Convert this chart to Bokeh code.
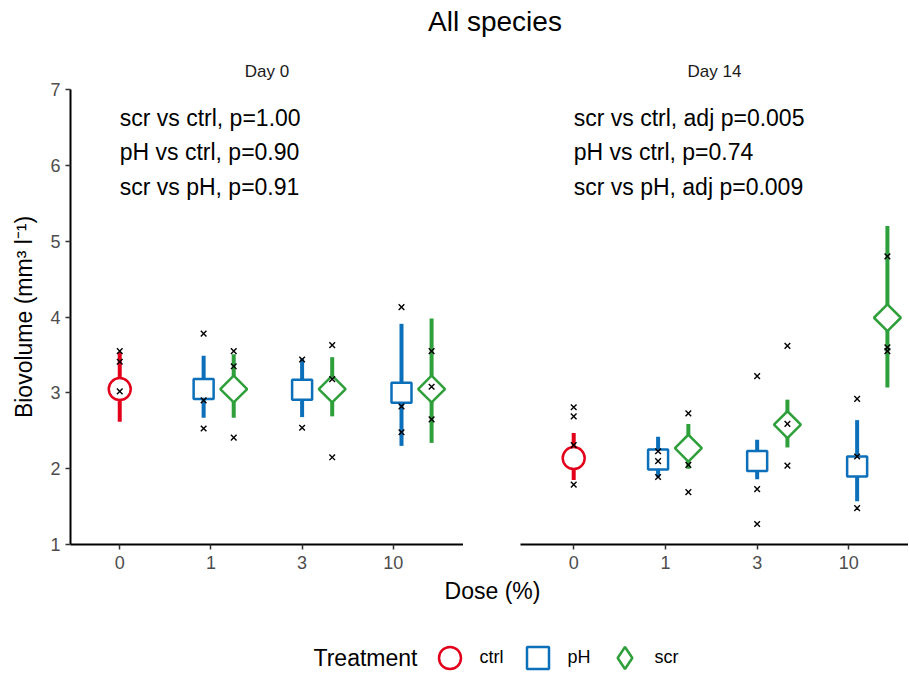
import math
from bokeh.plotting import figure
from bokeh.models import (ColumnDataSource, Range1d, FixedTicker, Div, Legend,
                          LegendItem, Label)
from bokeh.layouts import column, row
from bokeh.embed import file_html
from bokeh.resources import INLINE
from bokeh.core.properties import value

# ---------------- data ----------------
dose_labels = ["0", "1", "3", "10"]
y_ticks = [1, 2, 3, 4, 5, 6, 7]

# x position (category index + dodge) of each treatment group
ctrl_pos = [0.0]
ph_pos = [0.92, 2.0, 3.09]
scr_pos = [1.25, 2.33, 3.42]

# Day 0 : mean, lower and upper limits, replicate values
d0_ctrl_mean = [3.05]
d0_ctrl_lo = [2.62]
d0_ctrl_hi = [3.54]
d0_ctrl_reps = [[3.55, 3.41, 3.02]]

d0_ph_mean = [3.05, 3.04, 3.00]
d0_ph_lo = [2.67, 2.68, 2.30]
d0_ph_hi = [3.49, 3.45, 3.91]
d0_ph_reps = [[3.78, 2.90, 2.53], [3.44, 2.54], [4.13, 2.82, 2.48]]

d0_scr_mean = [3.05, 3.05, 3.05]
d0_scr_lo = [2.67, 2.69, 2.34]
d0_scr_hi = [3.51, 3.47, 3.98]
d0_scr_reps = [[3.55, 3.35, 2.41], [3.63, 3.18, 2.15], [3.55, 3.08, 2.65]]

# Day 14
d14_ctrl_mean = [2.14]
d14_ctrl_lo = [1.85]
d14_ctrl_hi = [2.47]
d14_ctrl_reps = [[2.81, 2.69, 2.31, 1.79]]

d14_ph_mean = [2.12, 2.10, 2.03]
d14_ph_lo = [1.89, 1.86, 1.57]
d14_ph_hi = [2.42, 2.38, 2.64]
d14_ph_reps = [[2.23, 2.10, 1.89], [3.22, 1.73, 1.27], [2.92, 2.16, 1.48]]

d14_scr_mean = [2.27, 2.58, 3.99]
d14_scr_lo = [2.00, 2.28, 3.07]
d14_scr_hi = [2.59, 2.91, 5.20]
d14_scr_reps = [[2.73, 2.05, 1.69], [3.62, 2.59, 2.04], [4.80, 3.60, 3.55]]

d0_notes = ["scr vs ctrl, p=1.00", "pH vs ctrl, p=0.90", "scr vs pH, p=0.91"]
d14_notes = ["scr vs ctrl, adj p=0.005", "pH vs ctrl, p=0.74", "scr vs pH, adj p=0.009"]

# ---------------- style ----------------
FONT = "Liberation Sans"
COL = {"ctrl": "#E3001B", "pH": "#0B6FBA", "scr": "#2E9F3A"}
note_x = [0, 0, 0]
note_y = [6.63, 6.17, 5.72]


def group_sources(pos, mean, lo, hi, reps):
    summ = ColumnDataSource(dict(x=pos, mean=mean, lo=lo, hi=hi))
    px, py = [], []
    for xv, vals in zip(pos, reps):
        px += [xv] * len(vals)
        py += vals
    return summ, ColumnDataSource(dict(x=px, y=py))


def make_panel(title, width, min_left, x_range, groups, notes, show_y):
    p = figure(width=width, height=527, x_range=x_range, y_range=Range1d(1, 7),
               output_backend="svg", toolbar_location=None, title=title,
               min_border_left=min_left, min_border_right=0,
               min_border_top=41, min_border_bottom=31)
    p.title.align = "center"
    p.title.text_font = FONT
    p.title.text_font_size = "17px"
    p.title.text_font_style = "normal"
    p.title.text_color = "#1A1A1A"
    p.title.standoff = 18
    p.outline_line_color = None
    p.grid.visible = False

    p.xaxis.ticker = FixedTicker(ticks=list(range(len(dose_labels))))
    p.xaxis.major_label_overrides = {i: s for i, s in enumerate(dose_labels)}
    p.yaxis.ticker = FixedTicker(ticks=y_ticks)
    for ax in (p.xaxis, p.yaxis):
        ax.axis_line_color = "black"
        ax.axis_line_width = 2
        ax.major_tick_line_color = "#333333"
        ax.major_tick_line_width = 1.5
        ax.major_tick_out = 5
        ax.major_tick_in = 0
        ax.minor_tick_line_color = None
        ax.major_label_text_font = FONT
        ax.major_label_text_font_size = "18px"
        ax.major_label_text_color = "#4D4D4D"
    p.xaxis.major_label_standoff = 6
    p.yaxis.major_label_standoff = 5
    if show_y:
        p.yaxis.axis_label = "Biovolume (mm\u00b3 l\u207b\u00b9)"
        p.yaxis.axis_label_text_font = FONT
        p.yaxis.axis_label_text_font_size = "23px"
        p.yaxis.axis_label_text_font_style = "normal"
        p.yaxis.axis_label_text_color = "black"
        p.yaxis.axis_label_standoff = 10
    else:
        p.yaxis.visible = False

    for name, marker, size, angle, summ, pts in groups:
        c = COL[name]
        p.segment(x0="x", y0="lo", x1="x", y1="hi", source=summ,
                  line_color=c, line_width=4)
        p.scatter(x="x", y="mean", source=summ, marker=marker, size=size,
                  angle=angle, fill_color="white", line_color=c, line_width=2.5)
    for name, marker, size, angle, summ, pts in groups:
        p.scatter(x="x", y="y", source=pts, marker="x", size=8,
                  line_color="black", line_width=1.4)

    p.text(x=note_x, y=note_y, text=notes, text_font=value(FONT),
           text_font_size="23px", text_align="left",
           text_baseline="middle", text_color="black")
    return p


g0 = [
    ("ctrl", "circle", 22, 0, *group_sources(ctrl_pos, d0_ctrl_mean, d0_ctrl_lo, d0_ctrl_hi, d0_ctrl_reps)),
    ("pH", "square", 20, 0, *group_sources(ph_pos, d0_ph_mean, d0_ph_lo, d0_ph_hi, d0_ph_reps)),
    ("scr", "square", 19, math.pi / 4, *group_sources(scr_pos, d0_scr_mean, d0_scr_lo, d0_scr_hi, d0_scr_reps)),
]
g14 = [
    ("ctrl", "circle", 22, 0, *group_sources(ctrl_pos, d14_ctrl_mean, d14_ctrl_lo, d14_ctrl_hi, d14_ctrl_reps)),
    ("pH", "square", 20, 0, *group_sources(ph_pos, d14_ph_mean, d14_ph_lo, d14_ph_hi, d14_ph_reps)),
    ("scr", "square", 19, math.pi / 4, *group_sources(scr_pos, d14_scr_mean, d14_scr_lo, d14_scr_hi, d14_scr_reps)),
]

p1 = make_panel("Day 0", 463, 70, Range1d(-0.54, 3.77), g0, d0_notes, True)
p2 = make_panel("Day 14", 445, 57, Range1d(-0.58, 3.65), g14, d14_notes, False)

title = Div(text='<div style="font-family:\'Liberation Sans\';font-size:28px;line-height:44px;'
                 'text-align:center;width:908px;position:relative;left:41px;color:black">All species</div>',
            width=908, height=48, margin=(0, 0, 0, 0))

# bottom strip: x-axis title and legend
b = figure(width=908, height=97, x_range=Range1d(0, 1), y_range=Range1d(0, 1),
           output_backend="svg", toolbar_location=None, min_border=0)
b.axis.visible = False
b.grid.visible = False
b.outline_line_color = None
b.add_layout(Label(x=492, y=82, x_units="screen", y_units="screen", text="Dose (%)",
                   text_align="center", text_baseline="middle", text_font=FONT,
                   text_font_size="23px", text_color="black"))
b.add_layout(Label(x=313, y=15, x_units="screen", y_units="screen", text="Treatment",
                   text_align="left", text_baseline="middle", text_font=FONT,
                   text_font_size="23px", text_color="black"))
nan = float("nan")
r_ctrl = b.scatter(x=[nan], y=[nan], marker="circle", fill_color="white",
                   line_color=COL["ctrl"], line_width=2.5)
r_ph = b.scatter(x=[nan], y=[nan], marker="square", fill_color="white",
                 line_color=COL["pH"], line_width=2.5)
r_scr = b.scatter(x=[nan], y=[nan], marker="diamond", fill_color="white",
                  line_color=COL["scr"], line_width=2.5)
leg = Legend(items=[LegendItem(label="ctrl", renderers=[r_ctrl]),
                    LegendItem(label="pH", renderers=[r_ph]),
                    LegendItem(label="scr", renderers=[r_scr])],
             orientation="horizontal", location=(421.5, -12.5),
             glyph_width=55, glyph_height=55, label_standoff=3, spacing=6,
             padding=0, margin=0, border_line_color=None,
             background_fill_alpha=0, label_text_font=FONT,
             label_text_font_size="18px", label_text_color="black")
b.add_layout(leg)

layout = column(title, row(p1, p2), b)
open("out.html", "w").write(file_html(layout, INLINE))
